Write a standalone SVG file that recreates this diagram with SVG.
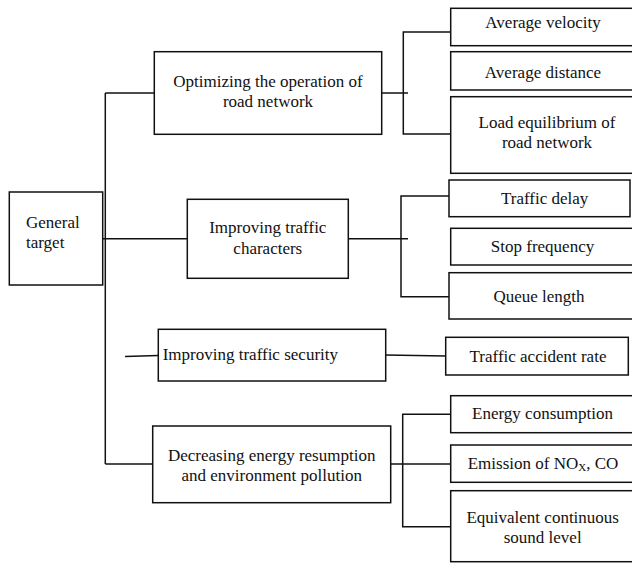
<svg xmlns="http://www.w3.org/2000/svg" width="632" height="563" viewBox="0 0 632 563">
<style>
  rect { fill: #fff; stroke: #111; stroke-width: 1.5; }
  .c line, .c polyline { fill: none; stroke: #111; stroke-width: 1.5; }
  text { font-family: "Liberation Serif", "Times New Roman", serif; font-size: 17px; fill: #111; }
  .m { text-anchor: middle; }
</style>
<rect x="0" y="0" width="632" height="563" style="stroke:none;fill:#fff"/>
<g class="c" id="connectors">
  <line x1="105.3" y1="93" x2="105.3" y2="464"/>
  <line x1="105.3" y1="93" x2="154.3" y2="93"/>
  <line x1="103" y1="238.7" x2="187.3" y2="238.7"/>
  <line x1="105.3" y1="464" x2="152.7" y2="464"/>
  <line x1="125" y1="356.5" x2="158.3" y2="355.5"/>
  <line x1="381.7" y1="93" x2="408" y2="93"/>
  <polyline points="450.7,32 403.3,32 403.3,134 450.7,134"/>
  <line x1="348.3" y1="238.7" x2="408" y2="238.7"/>
  <polyline points="449,196 401,196 401,296.7 449,296.7"/>
  <line x1="385.7" y1="355" x2="445.7" y2="356"/>
  <line x1="390.7" y1="464" x2="450.7" y2="464"/>
  <polyline points="450.7,414.3 402.7,414.3 402.7,526.7 450.7,526.7"/>
</g>
<g id="general-target">
  <rect x="9.3" y="192" width="93.4" height="93"/>
  <text x="26" y="228">General</text>
  <text x="26" y="248">target</text>
</g>
<g id="optimizing">
  <rect x="154.3" y="51.7" width="227.4" height="82.6"/>
  <text class="m" x="268" y="87">Optimizing the operation of</text>
  <text class="m" x="268" y="107">road network</text>
</g>
<g id="improving-characters">
  <rect x="187.3" y="199.3" width="161" height="79"/>
  <text class="m" x="267.8" y="233">Improving traffic</text>
  <text class="m" x="267.8" y="254">characters</text>
</g>
<g id="improving-security">
  <rect x="158.3" y="329.3" width="227.4" height="51.7"/>
  <text x="162.7" y="360">Improving traffic security</text>
</g>
<g id="decreasing">
  <rect x="152.7" y="426" width="238" height="76.7"/>
  <text class="m" x="271.7" y="460.7">Decreasing energy resumption</text>
  <text class="m" x="271.7" y="480.7">and environment pollution</text>
</g>
<g id="average-velocity">
  <rect x="450.7" y="8.3" width="190" height="37.4"/>
  <text class="m" x="543" y="28">Average velocity</text>
</g>
<g id="average-distance">
  <rect x="450.7" y="51.7" width="190" height="38.3"/>
  <text class="m" x="543" y="78">Average distance</text>
</g>
<g id="load-equilibrium">
  <rect x="450.7" y="96.7" width="190" height="76.6"/>
  <text class="m" x="547" y="128">Load equilibrium of</text>
  <text class="m" x="547" y="148">road network</text>
</g>
<g id="traffic-delay">
  <rect x="449" y="180" width="181" height="36.7"/>
  <text class="m" x="544.7" y="204">Traffic delay</text>
</g>
<g id="stop-frequency">
  <rect x="450.7" y="228.3" width="190" height="36.7"/>
  <text class="m" x="542.5" y="251.7">Stop frequency</text>
</g>
<g id="queue-length">
  <rect x="449" y="272.7" width="190" height="46.3"/>
  <text class="m" x="539" y="302">Queue length</text>
</g>
<g id="traffic-accident-rate">
  <rect x="445.7" y="337.3" width="182.6" height="37.7"/>
  <text class="m" x="538" y="361.7">Traffic accident rate</text>
</g>
<g id="energy-consumption">
  <rect x="450.7" y="395.7" width="190" height="37"/>
  <text class="m" x="542.5" y="419">Energy consumption</text>
</g>
<g id="emission">
  <rect x="450.7" y="445" width="190" height="37.3"/>
  <text class="m" x="543" y="469.3">Emission of NO<tspan font-size="11" dy="2">X</tspan><tspan dy="-2">, CO</tspan></text>
</g>
<g id="equivalent-sound">
  <rect x="450.7" y="490.7" width="190" height="71"/>
  <text class="m" x="542.7" y="523.3">Equivalent continuous</text>
  <text class="m" x="542.7" y="543.3">sound level</text>
</g>
</svg>
